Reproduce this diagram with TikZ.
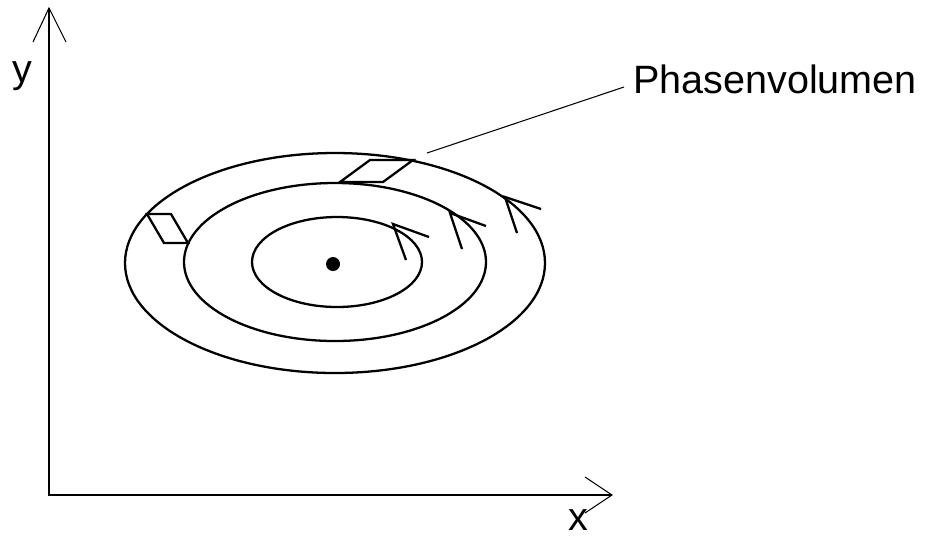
\documentclass[tikz,border=0pt]{standalone}
\usepackage{fontspec}
\setmainfont{Liberation Sans}

\begin{document}
\begin{tikzpicture}[x=0.02cm,y=-0.02cm,
		linie/.style={line width=1.3pt},
		duenn/.style={line width=0.6pt},
		beschriftung/.style={font=\fontsize{22.5}{27}\selectfont}]
		
		% Rahmen des Bildes
		\useasboundingbox (0,0) rectangle (952,539);
		
		% Achsen mit offenen Spitzen
		\coordinate (ursprung) at (49,495);
		\coordinate (xende) at (612,495);
		\coordinate (yende) at (49,8);
		\draw[linie] (yende) -- (ursprung) -- (xende);
		\draw[duenn] (33,42) -- (yende) -- (66,42);
		\draw[duenn] (585,477) -- (xende) -- (585,513);
		\node[beschriftung, inner sep=1pt] (xlabel) at (578,520) {x};
		\node[beschriftung] (ylabel) at (22,76) {y};
		
		% Phasenbahnen (Ellipsen um den Fixpunkt)
		\draw[linie] (335,263) ellipse [x radius=210, y radius=110];
		\draw[linie] (335,262) ellipse [x radius=151, y radius=79];
		\draw[linie] (337,262) ellipse [x radius=85, y radius=45];
		\fill (333,264) circle [radius=7];
		
		% Umlaufrichtung auf den Bahnen
		\draw[linie] (406,260) -- (393,224) -- (429,237);
		\draw[linie] (462,249) -- (450,213) -- (486,226);
		\draw[linie] (517,233) -- (505,197) -- (541,209);
		
		% Phasenvolumen an zwei Stellen
		\draw[linie] (147,214) -- (171,214) -- (188,243) -- (164,243) -- cycle;
		\draw[linie] (340,182) -- (370,160) -- (413,160) -- (383,182) -- cycle;
		
		% Beschriftung mit Hinweislinie
		\node[beschriftung, anchor=base west, inner sep=0pt] (phase) at (633,93) {Phasenvolumen};
		\coordinate (hinweis) at (624,87);
		\coordinate (zeiger) at (427,153);
		\draw[duenn] (zeiger) -- (hinweis);
		
	\end{tikzpicture}
\end{document}
